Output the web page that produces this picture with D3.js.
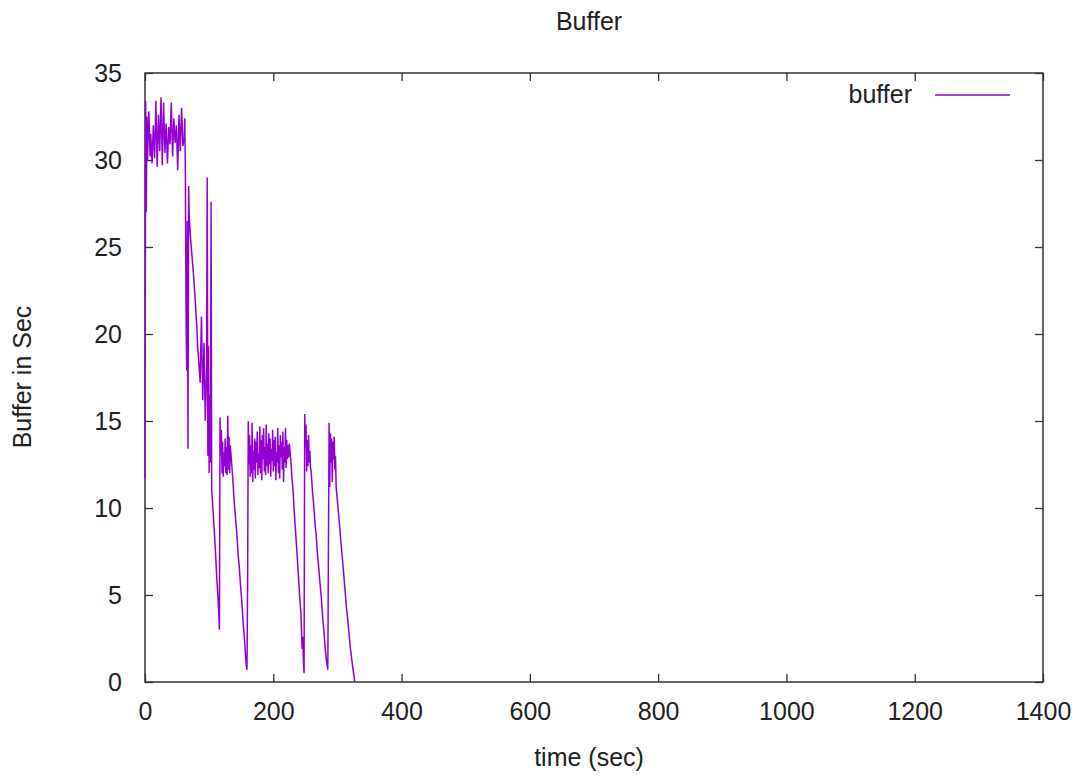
<!DOCTYPE html>
<html>
<head>
<meta charset="utf-8">
<script src="https://cdn.jsdelivr.net/npm/d3@7"></script>
<style>
  body { margin: 0; background: #fff; }
  text { font-family: "Liberation Sans", Arial, sans-serif; fill: #222; }
</style>
</head>
<body>
<div id="chart"></div>
<script>
/**
 * Data
 */
// sample times (sec)
var time = [0,1,2,3,4,6,8,9,11,13,15,17,19,21,23,25,27,29,31,33,35,37,39,41,43,45,47,49,51,53,55,57,59,61,62,63,
  64,65,66,67,68,69,71,73,75,77,79,81,82,84,86,88,90,92,94,96,97,98,99,100,101,102,103,104,106,108,110,112,114,116,
  117,118,119,120,121,122,123,124,125,126,127,128,129,130,131,132,133,135,137,139,141,143,145,147,149,151,153,155,157,158,159,160,161,
  162,163,164,165,166,167,168,169,170,171,172,173,174,175,176,177,178,179,180,181,182,183,184,185,186,187,188,189,190,
  191,192,193,194,195,196,197,198,199,200,201,202,203,204,205,206,207,208,209,210,211,212,213,214,215,216,217,218,219,220,
  221,222,223,224,225,227,229,231,233,235,237,239,241,243,244,245,246,247,248,
  249,250,251,252,253,254,255,256,257,258,259,261,263,265,267,269,271,273,275,277,279,281,283,285,
  287,288,289,290,291,292,293,294,295,296,297,298,300,302,304,306,308,310,312,314,316,318,320,322,324,326,327];
// buffer level (sec)
var buffer = [11.7,33.4,27.0,32.5,30.0,32.8,30.2,31.5,29.8,32.0,30.1,33.4,29.6,32.6,30.5,33.6,29.7,33.3,30.4,32.1,29.8,31.9,30.9,33.3,30.2,32.4,31.0,32.0,29.4,32.6,30.5,33.0,30.8,31.2,32.4,29.0,
  21.0,17.9,26.5,13.4,28.5,26.7,25.5,24.6,23.7,22.7,21.5,20.3,19.3,18.3,17.2,21.0,16.2,19.5,15.0,17.8,29.0,13.0,19.3,12.0,16.5,12.6,27.6,11.0,9.9,8.7,7.4,5.9,4.7,3.0,
  15.2,13.0,14.5,12.0,13.8,11.8,13.2,12.4,14.0,12.0,13.5,11.9,15.3,12.2,14.1,12.0,13.6,12.6,11.6,10.4,9.5,8.6,7.4,6.6,5.5,4.6,3.4,2.5,1.4,0.9,0.7,6.0,15.0,
  12.5,14.2,11.8,13.6,12.0,14.9,11.5,13.3,12.2,14.0,11.7,13.8,12.6,14.4,11.9,13.1,12.3,14.7,12.0,13.9,11.6,14.2,12.8,14.6,12.1,13.5,11.9,14.8,12.4,
  13.7,12.0,14.3,12.5,14.0,11.8,13.4,12.7,14.5,12.1,13.9,12.4,14.1,11.6,13.2,12.6,14.6,12.0,13.6,11.7,14.2,12.9,13.8,12.2,14.4,11.5,13.5,12.6,14.6,12.3,
  13.9,12.8,13.6,12.9,13.7,12.9,11.8,10.9,9.6,8.5,7.4,6.2,5.0,4.0,2.9,1.9,2.6,1.2,0.5,
  15.4,13.5,14.8,12.1,13.9,12.4,14.2,12.6,13.3,12.3,12.1,11.0,10.2,9.1,8.4,7.3,6.5,5.6,4.8,3.7,2.9,1.9,1.2,0.7,
  14.9,11.2,14.3,12.6,14.0,11.5,13.8,12.8,14.1,12.2,13.0,11.2,10.4,9.6,8.7,7.8,7.0,6.1,5.2,4.3,3.6,2.8,2.0,1.4,0.8,0.3,0];
// axis ticks
var xTicks = [0,200,400,600,800,1000,1200,1400];
var yTicks = [0,5,10,15,20,25,30,35];

/**
 * Chart layout
 */
var svgWidth = 1078;
var svgHeight = 776;
var margin = { top: 73, right: 35, bottom: 94, left: 145 };
var chartWidth = svgWidth - margin.left - margin.right;
var chartHeight = svgHeight - margin.top - margin.bottom;

var svg = d3.select("#chart").append("svg")
  .attr("width", svgWidth)
  .attr("height", svgHeight);

var chartGroup = svg.append("g")
  .attr("transform", `translate(${margin.left}, ${margin.top})`);

var xScale = d3.scaleLinear().domain([0, 1400]).range([0, chartWidth]);
var yScale = d3.scaleLinear().domain([0, 35]).range([chartHeight, 0]);

// axes with inward ticks, mirrored on the opposite sides
function styleAxis(g) {
  g.select(".domain").remove();
  g.selectAll(".tick line").attr("stroke", "#333").attr("stroke-width", 1.3);
  g.selectAll(".tick text").attr("font-size", 25).attr("fill", "#222")
    .attr("font-family", "Liberation Sans, Arial, sans-serif");
}

chartGroup.append("g")
  .attr("transform", `translate(0, ${chartHeight})`)
  .call(d3.axisBottom(xScale).tickValues(xTicks).tickSize(-8).tickPadding(20).tickFormat(d3.format("d")))
  .call(styleAxis);

chartGroup.append("g")
  .call(d3.axisLeft(yScale).tickValues(yTicks).tickSize(-8).tickPadding(23).tickFormat(d3.format("d")))
  .call(styleAxis)
  .selectAll(".tick text").attr("dy", "0.35em");

// mirrored ticks
chartGroup.append("g")
  .call(d3.axisTop(xScale).tickValues(xTicks).tickSize(-8).tickFormat(""))
  .call(styleAxis);
chartGroup.append("g")
  .attr("transform", `translate(${chartWidth}, 0)`)
  .call(d3.axisRight(yScale).tickValues(yTicks).tickSize(-8).tickFormat(""))
  .call(styleAxis);

// frame
chartGroup.append("rect")
  .attr("width", chartWidth)
  .attr("height", chartHeight)
  .attr("fill", "none")
  .attr("stroke", "#333")
  .attr("stroke-width", 1.5);

// buffer line
var line = d3.line()
  .x((d, i) => xScale(time[i]))
  .y(d => yScale(d));

chartGroup.append("path")
  .datum(buffer)
  .attr("d", line)
  .attr("fill", "none")
  .attr("stroke", "#9400d3")
  .attr("stroke-width", 1.5);

// legend
chartGroup.append("text")
  .attr("x", 767)
  .attr("y", 30)
  .attr("text-anchor", "end")
  .attr("font-size", 25)
  .text("buffer");
chartGroup.append("line")
  .attr("x1", 790).attr("x2", 865)
  .attr("y1", 22).attr("y2", 22)
  .attr("stroke", "#9400d3")
  .attr("stroke-width", 1.5);

// titles
svg.append("text")
  .attr("x", 589)
  .attr("y", 30)
  .attr("text-anchor", "middle")
  .attr("font-size", 25)
  .text("Buffer");

svg.append("text")
  .attr("x", 589)
  .attr("y", 766)
  .attr("text-anchor", "middle")
  .attr("font-size", 25)
  .text("time (sec)");

svg.append("text")
  .attr("transform", "translate(31, 377) rotate(-90)")
  .attr("text-anchor", "middle")
  .attr("font-size", 25)
  .text("Buffer in Sec");
</script>
</body>
</html>
